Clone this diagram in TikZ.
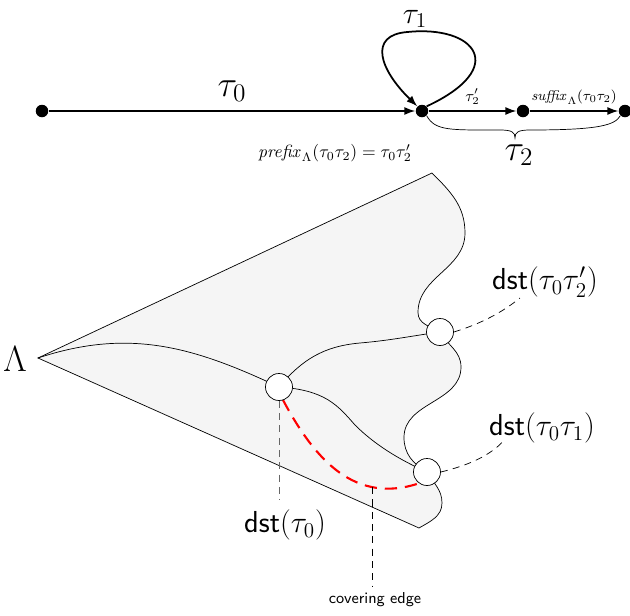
\documentclass[tikz,border=0pt]{standalone}
\usepackage{amsmath,amssymb}
\usepackage{xcolor}
\usepackage{tikz}
\usetikzlibrary{arrows.meta,positioning,calc}

\begin{document}
\begin{tikzpicture}[
    dot/.style={circle, fill=black, inner sep=0pt, minimum size=0.25cm},
    dst/.style={circle, draw=black, fill=white, inner sep=0pt, minimum size=0.54cm},
    run/.style={-{Latex[length=2.2mm,width=1.6mm]}, line width=1pt},
    leader/.style={dashed, dash pattern=on 4pt off 3pt, thin},
    cover/.style={red, line width=1.2pt, dash pattern=on 7pt off 4.5pt},
    lbl/.style={font=\LARGE},
]
\useasboundingbox (0,0) rectangle (12.6,-12.32);

% run of the word: tau_0 tau_1 tau_2
\node[dot] (v0) at (0.84,-2.22) {};
\node[dot] (v1) at (8.44,-2.22) {};
\node[dot] (v2) at (10.46,-2.22) {};
\node[dot] (v3) at (12.5,-2.22) {};
\draw[run] (v0) -- (v1) node[midway, above=0.05cm, font=\huge]{$\tau_0$};
\draw[run] (v1.45) .. controls (10.2,-1.35) and (9.5,-0.5) .. (8.15,-0.64)
    .. controls (7.35,-0.7) and (7.6,-1.4) .. (v1.135);
\node[font=\LARGE, inner sep=0pt] (t1) at (8.3,-0.38) {$\tau_1$};
\draw[run, line width=0.8pt] (v1) -- (v2) node[midway, above, font=\small]{$\tau_2'$};
\draw[run, line width=0.8pt] (v2) -- (v3) node[midway, above, font=\footnotesize]{$\mathit{suffix}_\Lambda(\tau_0\tau_2)$};
\draw[thin] (v1.south east) .. controls (8.7,-2.62) and (9.0,-2.6) .. (10.0,-2.6)
    .. controls (10.25,-2.6) and (10.3,-2.65) .. (10.3,-2.76)
    .. controls (10.3,-2.65) and (10.35,-2.6) .. (10.6,-2.6)
    .. controls (12.0,-2.6) and (12.3,-2.5) .. (v3.south west);
\node[font=\huge] (t2) at (10.38,-3.1) {$\tau_2$};
\node (pre) at (6.7,-3.06) {$\mathit{prefix}_\Lambda(\tau_0\tau_2)=\tau_0\tau_2'$};

% the cone below Lambda
\coordinate (apex) at (0.76,-7.16);
\coordinate (top) at (8.64,-3.46);
\coordinate (bot) at (8.38,-10.56);
\node[font=\huge] (lam) at (0.3,-7.18) {$\Lambda$};
\draw[fill=gray!8] (apex) -- (top)
    to[out=-45,in=90] (9.3,-4.66) to[out=-90,in=90] (8.36,-6.25)
    to[out=-90,in=150] (8.8,-6.64)
    to[out=-60,in=90] (9.22,-7.34) to[out=-90,in=90] (8.08,-8.75)
    to[out=-90,in=150] (8.54,-9.44)
    to[out=-60,in=90] (8.84,-10.06) to[out=-90,in=30] (bot) -- cycle;

\coordinate (c0) at (5.58,-7.74);
\coordinate (c1) at (8.54,-9.44);
\coordinate (c2) at (8.8,-6.64);
\draw (apex) .. controls (2.6,-6.55) and (3.9,-6.95) .. (c0);
\draw (c0) to[out=50,in=185] (7.2,-6.86) to[out=5,in=188] (c2);
\draw (c0) .. controls (6.5,-7.8) and (6.75,-8.1) .. (7.1,-8.5)
    .. controls (7.5,-8.9) and (8.0,-9.2) .. (c1);
\draw[cover] (5.66,-8.0) .. controls (6.3,-9.2) and (7.1,-10.1) .. (8.4,-9.66)
    coordinate[pos=0.73] (ce);

\node[dst] (d0) at (c0) {};
\node[dst] (d1) at (c1) {};
\node[dst] (d2) at (c2) {};

% labels of the states
\node[lbl] (ld0) at (5.7,-10.5) {$\textsf{dst}(\tau_0)$};
\node[lbl] (ld2) at (10.9,-5.64) {$\textsf{dst}(\tau_0\tau_2')$};
\node[lbl] (ld1) at (10.84,-8.56) {$\textsf{dst}(\tau_0\tau_1)$};
\node[font=\small\sffamily] (lce) at (7.5,-12.0) {covering edge};

\draw[leader, gray!80!black] (d0) -- (5.58,-10.0);
\draw[leader] (ce) -- (ce |- lce.north);
\draw[leader] (d2.east) .. controls (9.7,-6.45) and (10.1,-6.2) .. (10.4,-5.96);
\draw[leader] (d1.east) .. controls (9.4,-9.3) and (9.8,-9.1) .. (10.05,-8.84);

\end{tikzpicture}
\end{document}
